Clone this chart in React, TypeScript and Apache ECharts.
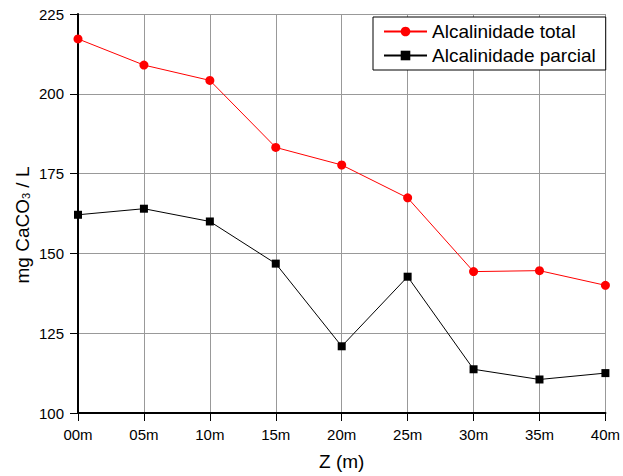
import React, { useEffect, useRef } from "react";
import * as echarts from "echarts";

const categories = ["00m", "05m", "10m", "15m", "20m", "25m", "30m", "35m", "40m"];
const alcalinidadeTotal = [217.2, 209.0, 204.2, 183.2, 177.7, 167.4, 144.3, 144.6, 140.0];
const alcalinidadeParcial = [162.1, 164.0, 160.0, 146.8, 120.9, 142.7, 113.7, 110.5, 112.5];
const seriesNames = ["Alcalinidade total", "Alcalinidade parcial"];
const xAxisTitle = "Z (m)";
const yMin = 100;
const yMax = 225;
const yInterval = 25;

const FONT = "'Liberation Sans', Arial, sans-serif";

export default function App() {
  const ref = useRef<HTMLDivElement>(null);
  useEffect(() => {
    if (!ref.current) return;
    const chart = echarts.init(ref.current, undefined, { renderer: "svg" });
    chart.setOption({
      animation: false,
      backgroundColor: "#ffffff",
      textStyle: { fontFamily: FONT },
      grid: { left: 78, top: 14, right: 16, bottom: 63, containLabel: false },
      legend: {
        orient: "vertical",
        left: 373,
        top: 17,
        width: 232,
        backgroundColor: "#ffffff",
        borderColor: "#000000",
        borderWidth: 1,
        borderRadius: 0,
        padding: [5, 10, 5, 10],
        itemGap: 5,
        itemWidth: 43,
        itemHeight: 12,
        textStyle: { fontFamily: FONT, fontSize: 19, color: "#000" },
        data: seriesNames,
      },
      xAxis: {
        type: "category",
        data: categories,
        boundaryGap: false,
        name: xAxisTitle,
        nameLocation: "middle",
        nameGap: 39,
        nameTextStyle: { fontFamily: FONT, fontSize: 19, color: "#000" },
        axisLine: { show: true, lineStyle: { color: "#000", width: 2 } },
        axisTick: { show: true, inside: false, length: 8, alignWithLabel: true, lineStyle: { color: "#000", width: 1 } },
        axisLabel: { fontFamily: FONT, fontSize: 15, color: "#000", margin: 14 },
        splitLine: { show: true, lineStyle: { color: "#999999", width: 1 } },
      },
      yAxis: {
        type: "value",
        min: yMin,
        max: yMax,
        interval: yInterval,
        axisLine: { show: true, lineStyle: { color: "#000", width: 2 } },
        axisTick: { show: true, inside: false, length: 8, lineStyle: { color: "#000", width: 1 } },
        axisLabel: { fontFamily: FONT, fontSize: 15, color: "#000", margin: 14 },
        splitLine: { show: true, lineStyle: { color: "#999999", width: 1 } },
      },
      graphic: [
        {
          type: "text",
          x: 22,
          y: 225,
          rotation: Math.PI / 2,
          style: {
            text: "mg CaCO{sub|3} / L",
            fontFamily: FONT,
            fontSize: 19,
            fill: "#000",
            align: "center",
            verticalAlign: "middle",
            rich: {
              sub: { fontFamily: FONT, fontSize: 11, fill: "#000", verticalAlign: "bottom", padding: [8, 0, 0, 0] },
            },
          },
        },
      ],
      series: [
        {
          name: seriesNames[0],
          type: "line",
          data: alcalinidadeTotal,
          symbol: "circle",
          symbolSize: 9,
          itemStyle: { color: "#ff0000" },
          lineStyle: { color: "#ff0000", width: 1 },
          z: 3,
        },
        {
          name: seriesNames[1],
          type: "line",
          data: alcalinidadeParcial,
          symbol: "rect",
          symbolSize: 8,
          itemStyle: { color: "#000000" },
          lineStyle: { color: "#000000", width: 1 },
          z: 3,
        },
      ],
    });
    return () => chart.dispose();
  }, []);
  return (
    <div
      ref={ref}
      style={{ position: "absolute", left: 0, top: 0, width: 623, height: 476 }}
    />
  );
}
